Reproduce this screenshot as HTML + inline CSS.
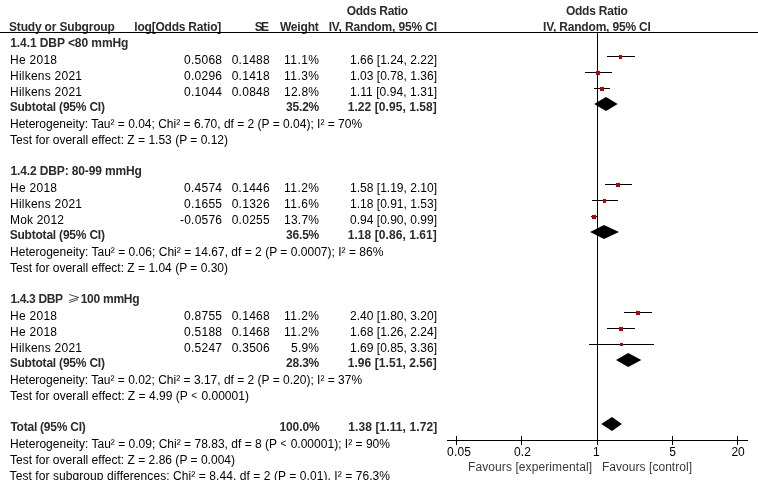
<!DOCTYPE html>
<html><head><meta charset="utf-8"><title>Forest plot</title>
<style>
html,body{margin:0;padding:0;background:#fff;width:758px;height:480px;overflow:hidden;}
body{width:758px;height:480px;position:relative;overflow:hidden;font-family:"Liberation Sans",sans-serif;font-size:12px;color:#000;}
#tx{position:absolute;left:0;top:0;width:758px;height:480px;overflow:hidden;will-change:transform;}
.t{position:absolute;white-space:pre;line-height:16px;height:16px;}
.b{font-weight:bold;color:#2b2b2b;}
.g{color:#3a3a3a;}
.lt{display:inline-block;width:7.008px;text-align:center;font-size:10px;line-height:10px;position:relative;top:-1px;left:-0.4px;}
svg{position:absolute;left:0;top:0;}
</style></head><body>
<div id="tx">

<div class="t b" style="left:9.00px;top:19px;letter-spacing:-0.175px;">Study or Subgroup</div>
<div class="t b" style="left:134.31px;top:19px;letter-spacing:-0.214px;">log[Odds Ratio]</div>
<div class="t b" style="left:254.69px;top:19px;letter-spacing:-1.600px;">SE</div>
<div class="t b" style="left:279.93px;top:19px;letter-spacing:-0.180px;">Weight</div>
<div class="t b" style="left:346.80px;top:3px;letter-spacing:-0.300px;">Odds Ratio</div>
<div class="t b" style="left:328.64px;top:19px;letter-spacing:-0.147px;">IV, Random, 95% CI</div>
<div class="t b" style="left:565.90px;top:3px;letter-spacing:-0.222px;">Odds Ratio</div>
<div class="t b" style="left:543.04px;top:19px;letter-spacing:-0.182px;">IV, Random, 95% CI</div>
<div class="t b" style="left:10.20px;top:35px;letter-spacing:-0.076px;">1.4.1 DBP &lt;80 mmHg</div>
<div class="t" style="left:10.00px;top:52px;letter-spacing:0.272px;">He 2018</div>
<div class="t" style="left:184.00px;top:52px;letter-spacing:0.260px;">0.5068</div>
<div class="t" style="left:231.70px;top:52px;letter-spacing:0.260px;">0.1488</div>
<div class="t" style="left:284.00px;top:52px;letter-spacing:0.466px;">11.1%</div>
<div class="t" style="left:350.00px;top:52px;letter-spacing:0.017px;">1.66 [1.24, 2.22]</div>
<div class="t" style="left:10.00px;top:68px;letter-spacing:0.239px;">Hilkens 2021</div>
<div class="t" style="left:184.00px;top:68px;letter-spacing:0.260px;">0.0296</div>
<div class="t" style="left:231.70px;top:68px;letter-spacing:0.260px;">0.1418</div>
<div class="t" style="left:284.00px;top:68px;letter-spacing:0.466px;">11.3%</div>
<div class="t" style="left:350.00px;top:68px;letter-spacing:0.017px;">1.03 [0.78, 1.36]</div>
<div class="t" style="left:10.00px;top:84px;letter-spacing:0.239px;">Hilkens 2021</div>
<div class="t" style="left:184.00px;top:84px;letter-spacing:0.260px;">0.1044</div>
<div class="t" style="left:231.70px;top:84px;letter-spacing:0.260px;">0.0848</div>
<div class="t" style="left:284.00px;top:84px;letter-spacing:0.244px;">12.8%</div>
<div class="t" style="left:350.00px;top:84px;letter-spacing:0.072px;">1.11 [0.94, 1.31]</div>
<div class="t b" style="left:9.70px;top:99px;letter-spacing:-0.213px;">Subtotal (95% CI)</div>
<div class="t b" style="left:286.07px;top:99px;letter-spacing:-0.200px;">35.2%</div>
<div class="t b" style="left:347.74px;top:99px;letter-spacing:0.062px;">1.22 [0.95, 1.58]</div>
<div class="t" style="left:10.00px;top:116px;">Heterogeneity: Tau² = 0.04; Chi² = 6.70, df = 2 (P = 0.04); I² = 70%</div>
<div class="t" style="left:10.00px;top:132px;letter-spacing:0.008px;">Test for overall effect: Z = 1.53 (P = 0.12)</div>
<div class="t b" style="left:10.40px;top:163px;letter-spacing:-0.125px;">1.4.2 DBP: 80-99 mmHg</div>
<div class="t" style="left:10.00px;top:180px;letter-spacing:0.272px;">He 2018</div>
<div class="t" style="left:184.00px;top:180px;letter-spacing:0.260px;">0.4574</div>
<div class="t" style="left:231.70px;top:180px;letter-spacing:0.260px;">0.1446</div>
<div class="t" style="left:284.00px;top:180px;letter-spacing:0.466px;">11.2%</div>
<div class="t" style="left:350.00px;top:180px;letter-spacing:0.017px;">1.58 [1.19, 2.10]</div>
<div class="t" style="left:10.00px;top:196px;letter-spacing:0.239px;">Hilkens 2021</div>
<div class="t" style="left:184.00px;top:196px;letter-spacing:0.260px;">0.1655</div>
<div class="t" style="left:231.70px;top:196px;letter-spacing:0.260px;">0.1326</div>
<div class="t" style="left:284.00px;top:196px;letter-spacing:0.466px;">11.6%</div>
<div class="t" style="left:350.00px;top:196px;letter-spacing:0.017px;">1.18 [0.91, 1.53]</div>
<div class="t" style="left:10.00px;top:212px;letter-spacing:0.186px;">Mok 2012</div>
<div class="t" style="left:180.00px;top:212px;letter-spacing:0.217px;">-0.0576</div>
<div class="t" style="left:231.70px;top:212px;letter-spacing:0.260px;">0.0255</div>
<div class="t" style="left:284.00px;top:212px;letter-spacing:0.244px;">13.7%</div>
<div class="t" style="left:350.00px;top:212px;letter-spacing:0.017px;">0.94 [0.90, 0.99]</div>
<div class="t b" style="left:9.70px;top:227px;letter-spacing:-0.213px;">Subtotal (95% CI)</div>
<div class="t b" style="left:286.07px;top:227px;letter-spacing:-0.200px;">36.5%</div>
<div class="t b" style="left:347.74px;top:227px;letter-spacing:0.062px;">1.18 [0.86, 1.61]</div>
<div class="t" style="left:10.00px;top:244px;letter-spacing:0.018px;">Heterogeneity: Tau² = 0.06; Chi² = 14.67, df = 2 (P = 0.0007); I² = 86%</div>
<div class="t" style="left:10.00px;top:260px;letter-spacing:0.008px;">Test for overall effect: Z = 1.04 (P = 0.30)</div>
<div class="t b" style="left:10.40px;top:291px;letter-spacing:-0.338px;">1.4.3 DBP</div>
<div class="t b" style="left:80.70px;top:291px;letter-spacing:-0.257px;">100 mmHg</div>
<div class="t" style="left:10.00px;top:308px;letter-spacing:0.272px;">He 2018</div>
<div class="t" style="left:184.00px;top:308px;letter-spacing:0.260px;">0.8755</div>
<div class="t" style="left:231.70px;top:308px;letter-spacing:0.260px;">0.1468</div>
<div class="t" style="left:284.00px;top:308px;letter-spacing:0.466px;">11.2%</div>
<div class="t" style="left:350.00px;top:308px;letter-spacing:0.017px;">2.40 [1.80, 3.20]</div>
<div class="t" style="left:10.00px;top:324px;letter-spacing:0.272px;">He 2018</div>
<div class="t" style="left:184.00px;top:324px;letter-spacing:0.260px;">0.5188</div>
<div class="t" style="left:231.70px;top:324px;letter-spacing:0.260px;">0.1468</div>
<div class="t" style="left:284.00px;top:324px;letter-spacing:0.466px;">11.2%</div>
<div class="t" style="left:350.00px;top:324px;letter-spacing:0.017px;">1.68 [1.26, 2.24]</div>
<div class="t" style="left:10.00px;top:340px;letter-spacing:0.239px;">Hilkens 2021</div>
<div class="t" style="left:184.00px;top:340px;letter-spacing:0.260px;">0.5247</div>
<div class="t" style="left:231.70px;top:340px;letter-spacing:0.260px;">0.3506</div>
<div class="t" style="left:291.00px;top:340px;letter-spacing:0.216px;">5.9%</div>
<div class="t" style="left:350.00px;top:340px;letter-spacing:0.017px;">1.69 [0.85, 3.36]</div>
<div class="t b" style="left:9.70px;top:355px;letter-spacing:-0.213px;">Subtotal (95% CI)</div>
<div class="t b" style="left:286.07px;top:355px;letter-spacing:-0.200px;">28.3%</div>
<div class="t b" style="left:347.74px;top:355px;letter-spacing:0.062px;">1.96 [1.51, 2.56]</div>
<div class="t" style="left:10.00px;top:372px;">Heterogeneity: Tau² = 0.02; Chi² = 3.17, df = 2 (P = 0.20); I² = 37%</div>
<div class="t" style="left:10.00px;top:388px;letter-spacing:0.028px;">Test for overall effect: Z = 4.99 (P <span class="lt">&lt;</span> 0.00001)</div>
<div class="t b" style="left:10.40px;top:419px;letter-spacing:-0.238px;">Total (95% CI)</div>
<div class="t b" style="left:279.50px;top:419px;letter-spacing:-0.120px;">100.0%</div>
<div class="t b" style="left:348.30px;top:419px;letter-spacing:0.094px;">1.38 [1.11, 1.72]</div>
<div class="t" style="left:10.00px;top:436px;letter-spacing:0.017px;">Heterogeneity: Tau² = 0.09; Chi² = 78.83, df = 8 (P <span class="lt">&lt;</span> 0.00001); I² = 90%</div>
<div class="t" style="left:10.00px;top:452px;letter-spacing:0.015px;">Test for overall effect: Z = 2.86 (P = 0.004)</div>
<div class="t" style="left:9.60px;top:468px;letter-spacing:0.073px;">Test for subgroup differences: Chi² = 8.44, df = 2 (P = 0.01), I² = 76.3%</div>
<div class="t" style="left:447.00px;top:444px;letter-spacing:0.215px;">0.05</div>
<div class="t" style="left:513.90px;top:444px;letter-spacing:0.159px;">0.2</div>
<div class="t" style="left:593.01px;top:444px;letter-spacing:-1.373px;">1</div>
<div class="t" style="left:669.16px;top:444px;letter-spacing:0.327px;">5</div>
<div class="t" style="left:731.40px;top:444px;letter-spacing:-0.147px;">20</div>
<div class="t g" style="left:468.00px;top:459px;letter-spacing:0.093px;">Favours [experimental]</div>
<div class="t g" style="left:602.00px;top:459px;letter-spacing:0.040px;">Favours [control]</div>
</div>
<svg width="758" height="480" viewBox="0 0 758 480" shape-rendering="crispEdges">
<rect x="607" y="56" width="28" height="1" fill="#000"/>
<rect x="585" y="72" width="27" height="1" fill="#000"/>
<rect x="594" y="88" width="16" height="1" fill="#000"/>
<polygon points="594.1,104 606.0,97 617.7,104 606.0,111" fill="#000" shape-rendering="geometricPrecision"/>
<rect x="605" y="184" width="27" height="1" fill="#000"/>
<rect x="592" y="200" width="26" height="1" fill="#000"/>
<rect x="591" y="216" width="6" height="1" fill="#000"/>
<polygon points="590.1,232 604.0,225 619.0,232 604.0,239" fill="#000" shape-rendering="geometricPrecision"/>
<path d="M69.2,294.5 L78.8,297.5 L69.2,300.5 M78.0,299.6 L69.2,302.5" fill="none" stroke="#2a2a2a" stroke-width="0.85" shape-rendering="auto"/>
<rect x="624" y="312" width="28" height="1" fill="#000"/>
<rect x="607" y="328" width="28" height="1" fill="#000"/>
<rect x="589" y="344" width="65" height="1" fill="#000"/>
<polygon points="616.0,360 628.2,353 641.3,360 628.2,367" fill="#000" shape-rendering="geometricPrecision"/>
<polygon points="601.2,424 612.0,417 621.9,424 612.0,431" fill="#000" shape-rendering="geometricPrecision"/>
<rect x="0" y="32" width="758" height="1" fill="#000"/>
<rect x="597" y="32" width="1" height="413" fill="#000"/>
<rect x="447" y="440" width="301" height="1" fill="#000"/>
<rect x="456" y="436" width="1" height="9" fill="#000"/>
<rect x="521" y="436" width="1" height="9" fill="#000"/>
<rect x="597" y="436" width="1" height="9" fill="#000"/>
<rect x="672" y="436" width="1" height="9" fill="#000"/>
<rect x="737" y="436" width="1" height="9" fill="#000"/>
<rect x="619" y="55" width="3" height="4" fill="#c00000"/>
<rect x="596" y="71" width="4" height="4" fill="#c00000"/>
<rect x="600" y="87" width="4" height="4" fill="#c00000"/>
<rect x="616" y="183" width="4" height="4" fill="#c00000"/>
<rect x="603" y="199" width="3" height="4" fill="#c00000"/>
<rect x="592" y="215" width="4" height="4" fill="#c00000"/>
<rect x="636" y="311" width="4" height="4" fill="#c00000"/>
<rect x="619" y="327" width="4" height="4" fill="#c00000"/>
<rect x="620" y="343" width="3" height="3" fill="#c00000"/>
</svg>
</body></html>
